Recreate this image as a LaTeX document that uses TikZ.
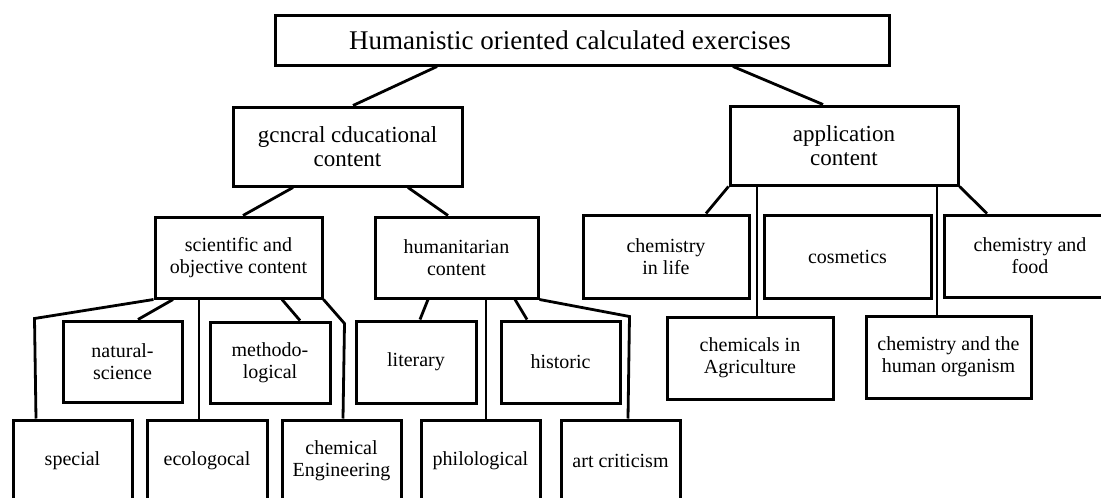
\documentclass[tikz,border=0pt]{standalone}
\usepackage{fontspec}
\setmainfont{Liberation Serif}
\begin{document}
\begin{tikzpicture}[x=1pt,y=-1pt,
  box/.style={draw, line width=3pt, inner sep=0pt, align=center,
    font=\fontsize{20}{22}\selectfont},
  bigbox/.style={box, font=\fontsize{23}{23.5}\selectfont},
  link/.style={line width=2.8pt, line join=miter}]
\useasboundingbox (0,0) rectangle (1101,498);
\clip (0,0) rectangle (1101,498);
\fill[white] (0,0) rectangle (1101,498);

% level 0
\node[box, font=\fontsize{27}{30}\selectfont, minimum width=614pt, minimum height=50pt] (top) at (582,40)
  {Humanistic oriented calculated exercises\hspace*{24pt}};
% level 1
\node[bigbox, minimum width=229pt, minimum height=79pt] (gen) at (347.5,146.5) {gcncral cducational\\content};
\node[bigbox, minimum width=228pt, minimum height=79pt] (app) at (844,145.5) {application\\content};
% level 2 left
\node[box, minimum width=167pt, minimum height=81pt] (sci) at (238.5,257.5) {scientific and\\objective content};
\node[box, minimum width=163pt, minimum height=81pt] (hum) at (456.5,257.5) {humanitarian\\content};
% level 3 left
\node[box, minimum width=119pt, minimum height=81pt] (nat) at (122.5,361.5) {natural-\\science};
\node[box, minimum width=120pt, minimum height=81pt] (meth) at (270,362.5) {methodo-\\logical};
\node[box, minimum width=120pt, minimum height=82pt] (lit) at (416,362) {literary};
\node[box, minimum width=119pt, minimum height=82pt] (hist) at (560.5,362) {historic};
% level 4 left
\node[box, minimum width=119pt, minimum height=82pt] (spec) at (72.5,461) {special};
\node[box, minimum width=120pt, minimum height=82pt] (eco) at (207,461) {\raisebox{3pt}{ecologocal}};
\node[box, minimum width=119pt, minimum height=82pt] (chemE) at (341.5,461) {chemical\\Engineering};
\node[box, minimum width=119pt, minimum height=82pt] (phil) at (480.5,461) {philological};
\node[box, minimum width=119pt, minimum height=82pt] (art) at (620.5,461) {art criticism};
% right branch
\node[box, minimum width=166pt, minimum height=83pt] (life) at (666,256.5) {chemistry\\in life};
\node[box, minimum width=167pt, minimum height=83pt] (cosm) at (847.5,256.5) {cosmetics};
\node[box, minimum width=172pt, minimum height=82pt] (food) at (1030,256) {chemistry and\\food};
\node[box, minimum width=166pt, minimum height=82pt] (agri) at (750,358) {chemicals in\\Agriculture};
\node[box, minimum width=165pt, minimum height=82pt] (human) at (948.5,357) {chemistry and the\\human organism};

% connectors
\draw[link] ([xshift=-145pt]top.south) -- ([xshift=5.5pt]gen.north);
\draw[link] ([xshift=151pt]top.south) -- ([xshift=-21pt]app.north);
\draw[link] ([xshift=-54.5pt]gen.south) -- ([xshift=4.5pt]sci.north);
\draw[link] ([xshift=60.5pt]gen.south) -- ([xshift=-8.5pt]hum.north);

\draw[link] (sci.south west) -- ++(-119,19) -- ([xshift=-36.5pt]spec.north);
\draw[link] ([xshift=-65.5pt]sci.south) -- ([xshift=15.5pt]nat.north);
\draw[link] ([xshift=-39.5pt]sci.south) -- ([xshift=-39.5pt]sci.south |- eco.north);
\draw[link] ([xshift=43.5pt]sci.south) -- ([xshift=30pt]meth.north);
\draw[link] (sci.south east) -- ++(21,24) -- ([xshift=1.5pt]chemE.north);

\draw[link] ([xshift=-28.5pt]hum.south) -- ([xshift=4pt]lit.north);
\draw[link] ([xshift=29.5pt]hum.south) -- ([xshift=29.5pt]hum.south |- phil.north);
\draw[link] ([xshift=58.5pt]hum.south) -- ([xshift=-33.5pt]hist.north);
\draw[link] (hum.south east) -- ++(90,17) -- ([xshift=7.5pt]art.north);

\draw[link] (app.south west) -- ([xshift=40pt]life.north);
\draw[link] ([xshift=-87pt]app.south) -- ([xshift=-87pt]app.south |- agri.north);
\draw[link] ([xshift=93pt]app.south) -- ([xshift=93pt]app.south |- human.north);
\draw[link] (app.south east) -- ([xshift=-43pt]food.north);
\end{tikzpicture}
\end{document}
